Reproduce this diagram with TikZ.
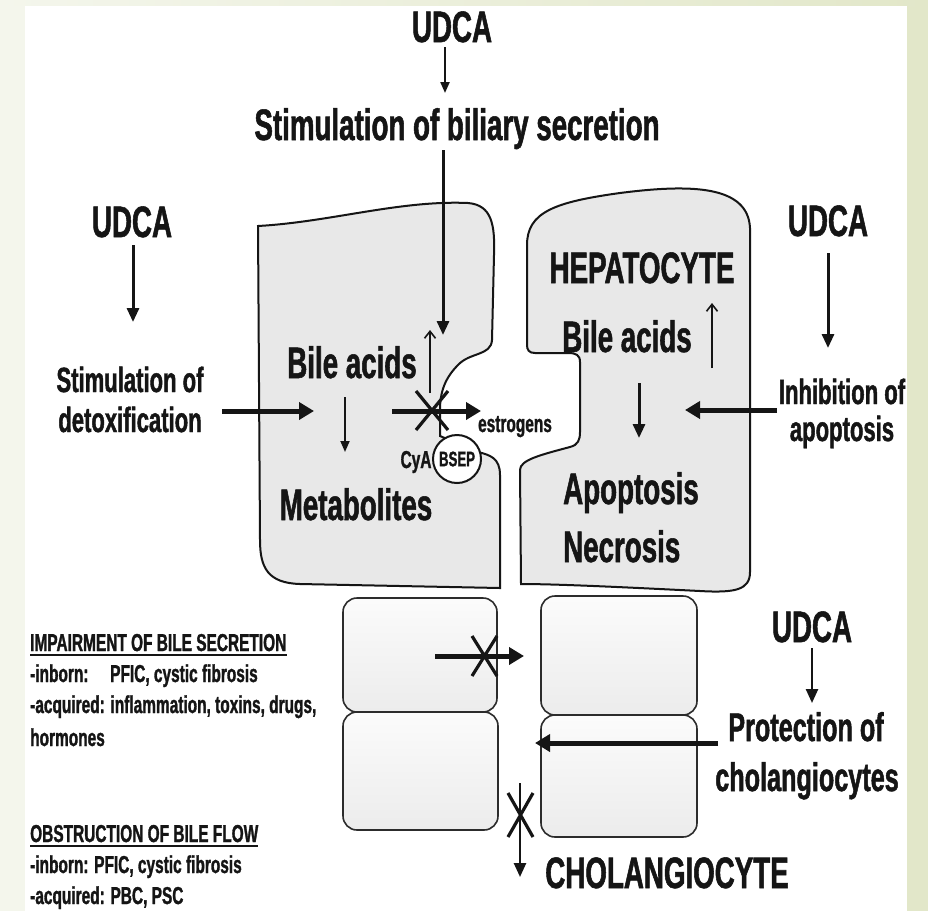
\documentclass[tikz,border=0pt]{standalone}
\usepackage{fontspec}
\newfontfamily\cf[FakeStretch=0.63,FakeBold=1.2]{Liberation Sans}
\usetikzlibrary{arrows.meta}
\definecolor{bggreen}{HTML}{E2E7C9}
\definecolor{bgpale}{HTML}{F4F6EC}
\definecolor{cellfill}{HTML}{E8E8E8}
\definecolor{ink}{HTML}{151515}
\begin{document}
\begin{tikzpicture}[x=1pt,y=-1pt,
  txt/.style={inner sep=0pt, anchor=base, text=ink},
  big/.style={txt, font=\cf\bfseries\fontsize{44}{48}\selectfont},
  mid/.style={txt, font=\cf\bfseries\fontsize{35}{40}\selectfont},
  prot/.style={txt, font=\cf\bfseries\fontsize{40}{44}\selectfont},
  small/.style={txt, font=\cf\bfseries\fontsize{24.5}{28}\selectfont},
  listtxt/.style={txt, anchor=base west, font=\cf\bfseries\fontsize{24.5}{28}\selectfont},
  cell/.style={draw=ink, line width=2, fill=cellfill},
  chol/.style={draw=ink!90, line width=1.6, rounded corners=14, top color=gray!3, bottom color=gray!15},
  thickarr/.style={draw=ink, line width=5, -{Triangle[length=15pt,width=17pt]}},
  medarr/.style={draw=ink, line width=3, -{Triangle[length=14pt,width=12pt]}},
  thinarr/.style={draw=ink, line width=1.8, -{Triangle[length=11pt,width=9pt]}},
  barb/.style={draw=ink, line width=1.6, -{Straight Barb[length=7pt,width=11pt,line width=1.6pt]}},
  xmark/.style={draw=ink, line width=3.2}]
\useasboundingbox (0,0) rectangle (928,911);
% background
\fill[bggreen] (0,0) rectangle (928,911);
\shade[left color=bgpale, right color=bggreen] (0,0) rectangle (928,6);
\fill[bgpale] (0,6) rectangle (25,911);
\fill[white] (25,6) rectangle (907,911);

% left hepatocyte
\draw[cell] (258,226) .. controls (330,222) and (400,200) .. (468,203)
  .. controls (492,205) and (495,225) .. (494,255)
  -- (492,340)
  .. controls (491,356) and (470,352) .. (458,365)
  .. controls (445,378) and (440,392) .. (440,410)
  -- (440,436) -- (478,452)
  .. controls (490,455) and (500,458) .. (500,475)
  -- (500,588) -- (300,584)
  .. controls (268,583) and (260,568) .. (260,540) -- cycle;
% right hepatocyte
\draw[cell] (527,345) -- (527,245)
  .. controls (527,212) and (555,202) .. (620,193)
  .. controls (690,184) and (748,185) .. (750,228)
  -- (750,572)
  .. controls (750,590) and (735,593) .. (700,591)
  .. controls (640,588) and (560,584) .. (521,584)
  -- (520,470)
  .. controls (520,460) and (540,455) .. (570,447)
  .. controls (578,445) and (580,440) .. (580,432)
  -- (580,362)
  .. controls (580,355) and (576,353) .. (568,353)
  -- (535,353)
  .. controls (529,353) and (527,350) .. (527,345) -- cycle;
\node[circle, draw=ink, line width=2, fill=white, minimum size=48pt, inner sep=0pt,
  font=\cf\bfseries\fontsize{21}{24}\selectfont, text=ink] (bsep) at (457,459) {BSEP};

% cholangiocytes
\draw[chol] (343,598) rectangle (497,712);
\draw[chol] (343,712) rectangle (498,830);
\draw[chol] (541,596) rectangle (697,715);
\draw[chol] (541,715) rectangle (697,837);

% texts
\node[big] (udcaT) at (452,42) {UDCA};
\node[big] (stimB) at (457,140) {Stimulation of biliary secretion};
\node[big] (udcaL) at (132,237) {UDCA};
\node[mid] (detoxA) at (130,392) {Stimulation of};
\node[mid] (detoxB) at (130,432) {detoxification};
\node[big] (udcaR) at (828,236) {UDCA};
\node[mid] (inhibA) at (842,404) {Inhibition of};
\node[mid] (inhibB) at (842,441) {apoptosis};
\node[big] (baL) at (352,378) {Bile acids};
\node[big] (metab) at (356,520) {Metabolites};
\node[small] (estr) at (515,432) {estrogens};
\node[small] (cya) at (416,468) {CyA};
\node[big] (hep) at (642,283) {HEPATOCYTE};
\node[big] (baR) at (627,352) {Bile acids};
\node[big, anchor=base west] (apo) at (563,504) {Apoptosis};
\node[big, anchor=base west] (nec) at (563,562) {Necrosis};
\node[big] (udcaB) at (812,642) {UDCA};
\node[prot] (protA) at (806,741) {Protection of};
\node[prot] (protB) at (807,791) {cholangiocytes};
\node[big] (chol) at (667,888) {CHOLANGIOCYTE};

\node[listtxt] (impT) at (30,651) {IMPAIRMENT OF BILE SECRETION};
\draw[ink, line width=1.8] ([yshift=-4pt]impT.base west) -- ([yshift=-4pt]impT.base east);
\node[listtxt] (impA) at (30,682) {\makebox[80pt][l]{-inborn:}PFIC, cystic fibrosis};
\node[listtxt] (impB) at (30,713) {-acquired: inflammation, toxins, drugs,};
\node[listtxt] (impC) at (30,746) {hormones};
\node[listtxt] (obsT) at (30,842) {OBSTRUCTION OF BILE FLOW};
\draw[ink, line width=1.8] ([yshift=-4pt]obsT.base west) -- ([yshift=-4pt]obsT.base east);
\node[listtxt] (obsA) at (30,873) {-inborn: PFIC, cystic fibrosis};
\node[listtxt] (obsB) at (30,904) {-acquired: PBC, PSC};

% arrow end points
\coordinate (t1) at (445,47);  \coordinate (t2) at (445,93);
\coordinate (l1) at (443,150); \coordinate (l2) at (443,335);
\coordinate (u1) at (133,245); \coordinate (u2) at (133,322);
\coordinate (d1) at (222,411); \coordinate (d2) at (314,411);
\coordinate (s1) at (345,397); \coordinate (s2) at (345,452);
\coordinate (b1) at (430,393); \coordinate (b2) at (430,330);
\coordinate (e1) at (392,411); \coordinate (e2) at (481,411);
\coordinate (r1) at (712,368); \coordinate (r2) at (712,303);
\coordinate (q1) at (639,383); \coordinate (q2) at (639,438);
\coordinate (v1) at (828,253); \coordinate (v2) at (828,348);
\coordinate (i1) at (777,410); \coordinate (i2) at (685,410);
\coordinate (c1) at (435,656); \coordinate (c2) at (524,656);
\coordinate (p1) at (718,743); \coordinate (p2) at (535,743);
\coordinate (w1) at (812,648); \coordinate (w2) at (812,703);
\coordinate (z1) at (520,783); \coordinate (z2) at (520,877);

\draw[thinarr, line width=2.2] (t1) -- (t2);
\draw[medarr] (l1) -- (l2);
\draw[medarr] (u1) -- (u2);
\draw[thickarr] (d1) -- (d2);
\draw[thinarr] (s1) -- (s2);
\draw[barb] (b1) -- (b2);
\draw[thickarr] (e1) -- (e2);
\draw[xmark] (416,391) -- (448,430) (448,391) -- (416,430);
\draw[barb] (r1) -- (r2);
\draw[medarr] (q1) -- (q2);
\draw[medarr] (v1) -- (v2);
\draw[thickarr] (i1) -- (i2);
\draw[thickarr] (c1) -- (c2);
\draw[xmark] (472,636) -- (497,676) (497,636) -- (472,676);
\draw[thickarr] (p1) -- (p2);
\draw[medarr, line width=2.5] (w1) -- (w2);
\draw[medarr, line width=2.5] (z1) -- (z2);
\draw[xmark] (508,793) -- (533,837) (533,793) -- (508,837);
\end{tikzpicture}
\end{document}
